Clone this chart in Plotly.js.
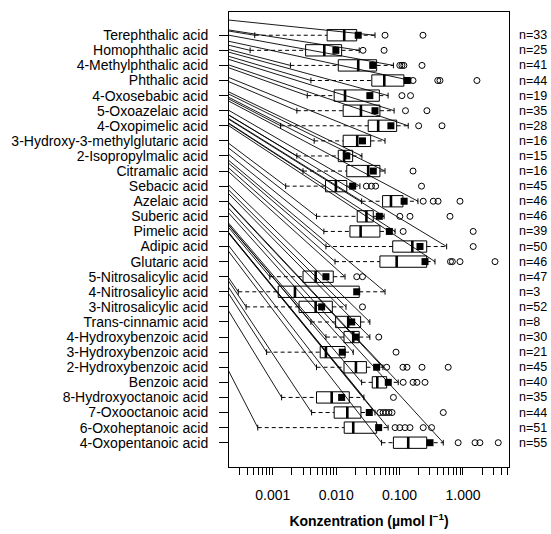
<!DOCTYPE html>
<html>
<head>
<meta charset="utf-8">
<script src="https://cdn.plot.ly/plotly-3.0.1.min.js"></script>
<style>html,body{margin:0;padding:0;background:#fff;}#chart{width:551px;height:534px;}</style>
</head>
<body>
<div id="chart"></div>
<script>
const categories = ["Terephthalic acid","Homophthalic acid","4-Methylphthalic acid","Phthalic acid","4-Oxosebabic acid","5-Oxoazelaic acid","4-Oxopimelic acid","3-Hydroxy-3-methylglutaric acid","2-Isopropylmalic acid","Citramalic acid","Sebacic acid","Azelaic acid","Suberic acid","Pimelic acid","Adipic acid","Glutaric acid","5-Nitrosalicylic acid","4-Nitrosalicylic acid","3-Nitrosalicylic acid","Trans-cinnamic acid","4-Hydroxybenzoic acid","3-Hydroxybenzoic acid","2-Hydroxybenzoic acid","Benzoic acid","8-Hydroxyoctanoic acid","7-Oxooctanoic acid","6-Oxoheptanoic acid","4-Oxopentanoic acid"];
const nCounts = [33,25,41,44,19,35,28,16,15,16,45,46,46,39,50,46,47,3,52,8,30,21,45,40,35,44,51,55];
const whiskerLow = [0.00052,0.00044,0.0019,0.0040,0.0035,0.0024,0.00133,0.0045,0.0024,0.0030,0.0016,0.0252,0.0049,0.0064,0.0069,0.0096,0.0009,0.000286,0.00038,0.0040,0.0069,0.0008,0.0049,0.0252,0.00138,0.0041,0.00058,0.052];
const q1 = [0.0072,0.0033,0.0108,0.0365,0.0093,0.0129,0.032,0.0129,0.0108,0.0147,0.0068,0.054,0.0215,0.0165,0.078,0.049,0.0030,0.00122,0.0026,0.0098,0.0133,0.0056,0.0133,0.0371,0.0049,0.0093,0.0134,0.080];
const medians = [0.0134,0.0065,0.0223,0.0574,0.0138,0.0246,0.046,0.0215,0.0133,0.032,0.0099,0.0732,0.030,0.0243,0.159,0.090,0.00475,0.00224,0.00475,0.0155,0.0186,0.0069,0.0205,0.0445,0.0085,0.0150,0.0186,0.137];
const q3 = [0.0211,0.0122,0.0435,0.117,0.048,0.049,0.090,0.035,0.0182,0.049,0.0147,0.113,0.0385,0.049,0.268,0.268,0.0090,0.0231,0.0087,0.0243,0.0231,0.0138,0.030,0.0626,0.0161,0.0246,0.0435,0.268];
const whiskerHigh = [0.041,0.0231,0.080,0.151,0.066,0.082,0.137,0.059,0.0255,0.059,0.0237,0.195,0.057,0.085,0.553,0.362,0.0138,0.059,0.0143,0.034,0.034,0.0186,0.0547,0.0953,0.0274,0.041,0.066,0.489];
const means = [0.0223,0.0099,0.0377,0.132,0.034,0.041,0.073,0.026,0.0147,0.0385,0.0182,0.118,0.048,0.069,0.210,0.252,0.0069,0.0211,0.0059,0.0176,0.0203,0.0125,0.0435,0.0664,0.0122,0.0333,0.0468,0.302];
const outliers = [[0.059,0.234],[0.0265,0.057],[0.101,0.109,0.117,0.226],[0.163,0.40,0.434,1.66],[0.109,0.149],[0.124,0.27],[0.20,0.467],[],[],[0.163],[0.030,0.036,0.042,0.222],[0.236,0.34,0.405,0.897],[0.101,0.146,0.624],[0.114,1.45],[1.45],[0.635,0.68,0.897,3.20],[0.0211,0.026],[],[0.026],[],[0.047],[0.088],[0.0626,0.113,0.131,0.226,0.585],[0.114,0.163,0.188,0.252],[0.080],[0.049,0.055,0.061,0.068,0.076,0.489],[0.085,0.101,0.122,0.146,0.236,0.32],[0.84,1.55,1.85,3.6]];
// common point (outside the plot) from which the connector lines of the original fan out
const fanOriginX = 2.0e-7;
const fanOriginY = -2.32;
const tickDecades = [0.0001,0.001,0.01,0.1,1];
const decadeLabels = {"0.001":"0.001","0.01":"0.010","0.1":"0.100","1":"1.000"};

const FONT = "Liberation Sans, Arial, Helvetica, sans-serif";
const boxHalf = 0.375, stapleHalf = 0.19;

const fan = {x:[],y:[]}, whisk = {x:[],y:[]}, staple = {x:[],y:[]}, box = {x:[],y:[]}, med = {x:[],y:[]}, out = {x:[],y:[]};
categories.forEach((c,i)=>{
  fan.x.push(fanOriginX, whiskerLow[i], null, fanOriginX, whiskerHigh[i], null);
  fan.y.push(fanOriginY, i, null, fanOriginY, i, null);
  whisk.x.push(whiskerLow[i], q1[i], null, q3[i], whiskerHigh[i], null);
  whisk.y.push(i, i, null, i, i, null);
  staple.x.push(whiskerLow[i], whiskerLow[i], null, whiskerHigh[i], whiskerHigh[i], null);
  staple.y.push(i-stapleHalf, i+stapleHalf, null, i-stapleHalf, i+stapleHalf, null);
  box.x.push(q1[i], q3[i], q3[i], q1[i], q1[i], null);
  box.y.push(i-boxHalf, i-boxHalf, i+boxHalf, i+boxHalf, i-boxHalf, null);
  med.x.push(medians[i], medians[i], null);
  med.y.push(i-boxHalf, i+boxHalf, null);
  outliers[i].forEach(v=>{out.x.push(v); out.y.push(i);});
});

const traces = [
  {x:fan.x, y:fan.y, mode:'lines', line:{color:'#000', width:0.9}, hoverinfo:'skip'},
  {x:whisk.x, y:whisk.y, mode:'lines', line:{color:'#000', width:1, dash:'4px,3px'}, hoverinfo:'skip'},
  {x:staple.x, y:staple.y, mode:'lines', line:{color:'#000', width:1}, hoverinfo:'skip'},
  {x:box.x, y:box.y, mode:'lines', line:{color:'#000', width:1}, hoverinfo:'skip'},
  {x:med.x, y:med.y, mode:'lines', line:{color:'#000', width:2.6}, hoverinfo:'skip'},
  {x:means, y:categories.map((c,i)=>i), mode:'markers', marker:{symbol:'square', size:7, color:'#000'}, hoverinfo:'skip'},
  {x:out.x, y:out.y, mode:'markers', marker:{symbol:'circle-open', size:6, color:'#000', line:{width:1}}, hoverinfo:'skip'}
];

const tickvals = [], ticktext = [];
tickDecades.forEach(d=>{
  for (let k=1;k<=9;k++){
    const v = +(k*d).toPrecision(3);
    if (v < 0.0002 - 1e-9 || v > 5 + 1e-9) continue;
    tickvals.push(v);
    ticktext.push(k===1 && decadeLabels[String(d)] ? decadeLabels[String(d)] : '');
  }
});

const layout = {
  width:551, height:534,
  margin:{l:229, r:42, t:12, b:67},
  paper_bgcolor:'#fff', plot_bgcolor:'#fff',
  showlegend:false, hovermode:false,
  font:{family:FONT, size:14, color:'#000'},
  xaxis:{
    type:'log', range:[-3.69, 0.726],
    showgrid:false, zeroline:false,
    showline:true, mirror:true, linecolor:'#000', linewidth:1,
    ticks:'outside', ticklen:7, tickwidth:1, tickcolor:'#000',
    tickvals:tickvals, ticktext:ticktext,
    tickfont:{family:FONT, size:14, color:'#000'},
    ticklabelstandoff:8,
    title:{text:'<b>Konzentration (µmol l<sup>−1</sup>)</b>', font:{family:FONT, size:14, color:'#000'}, standoff:14}
  },
  yaxis:{
    range:[28.61, -1.54],
    showgrid:false, zeroline:false,
    showline:true, mirror:true, linecolor:'#000', linewidth:1,
    ticks:'outside', ticklen:9, tickwidth:1, tickcolor:'#000',
    tickvals:categories.map((c,i)=>i), ticktext:categories,
    tickfont:{family:FONT, size:14, color:'#000'},
    ticklabelstandoff:8
  },
  annotations: nCounts.map((n,i)=>({
    xref:'paper', yref:'y', x:1, y:i, xanchor:'left', yanchor:'middle', xshift:8,
    text:'n='+n, showarrow:false, font:{family:FONT, size:12.5, color:'#000'}
  }))
};

Plotly.newPlot('chart', traces, layout, {displayModeBar:false, staticPlot:true});
</script>
</body>
</html>
